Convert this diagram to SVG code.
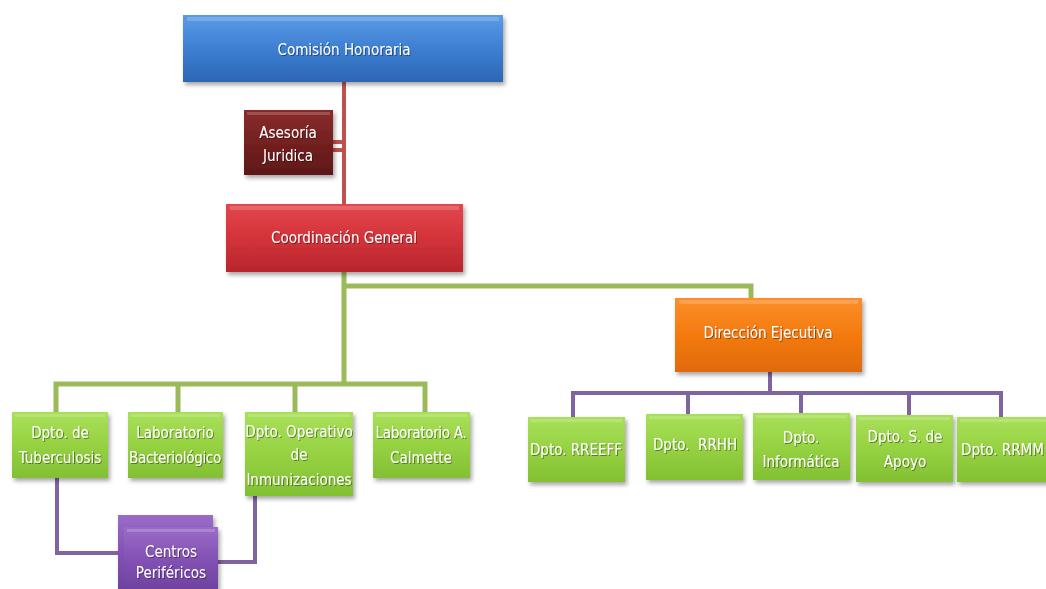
<svg xmlns="http://www.w3.org/2000/svg" width="1046" height="589" viewBox="0 0 1046 589">
<style>
text{font-family:"DejaVu Sans Condensed","DejaVu Sans","Liberation Sans",sans-serif;font-stretch:condensed;font-size:15px;fill:#ffffff;text-anchor:middle;filter:url(#ts)}
.tight{letter-spacing:-0.3px}
.red{stroke:#c0504d;stroke-width:4;fill:none}
.grn{stroke:#9bbb59;stroke-width:5;fill:none}
.pur{stroke:#8064a2;stroke-width:4;fill:none}
.blue{fill:url(#gBlue)}
.dred{fill:url(#gDred)}
.rd{fill:url(#gRed)}
.or{fill:url(#gOr)}
.gr{fill:url(#gGr)}
.pu{fill:url(#gPu)}
.hl{fill:#ffffff;opacity:0.18}
</style>
<defs>
<linearGradient id="gBlue" x1="0" y1="0" x2="0" y2="1"><stop offset="0" stop-color="#5b9be6"/><stop offset="0.5" stop-color="#3d7fd2"/><stop offset="1" stop-color="#2c66b4"/></linearGradient>
<linearGradient id="gDred" x1="0" y1="0" x2="0" y2="1"><stop offset="0" stop-color="#8a2c2c"/><stop offset="0.5" stop-color="#742020"/><stop offset="1" stop-color="#5e1818"/></linearGradient>
<linearGradient id="gRed" x1="0" y1="0" x2="0" y2="1"><stop offset="0" stop-color="#e4474d"/><stop offset="0.5" stop-color="#d3333a"/><stop offset="1" stop-color="#b8262c"/></linearGradient>
<linearGradient id="gOr" x1="0" y1="0" x2="0" y2="1"><stop offset="0" stop-color="#fb8f2a"/><stop offset="0.5" stop-color="#f47a10"/><stop offset="1" stop-color="#e06a08"/></linearGradient>
<linearGradient id="gGr" x1="0" y1="0" x2="0" y2="1"><stop offset="0" stop-color="#a9e05a"/><stop offset="0.5" stop-color="#96d242"/><stop offset="1" stop-color="#82c033"/></linearGradient>
<linearGradient id="gPu" x1="0" y1="0" x2="0" y2="1"><stop offset="0" stop-color="#9a6cc8"/><stop offset="0.5" stop-color="#8452b4"/><stop offset="1" stop-color="#6f42a0"/></linearGradient>
<filter id="ds" x="-10%" y="-10%" width="125%" height="135%"><feDropShadow dx="2" dy="3" stdDeviation="2" flood-color="#000" flood-opacity="0.35"/></filter>
<filter id="ts" x="-10%" y="-30%" width="120%" height="160%"><feDropShadow dx="1" dy="1" stdDeviation="0.6" flood-color="#000" flood-opacity="0.4"/></filter>
</defs>

<g id="connectors">
<path class="red" d="M344 82 V205"/>
<path class="red" d="M333 142 H344 M333 150 H344"/>
<path class="grn" d="M344 272 V386"/>
<path class="grn" d="M344 286 H751 V300"/>
<path class="grn" d="M56 412 V384 H425 V412"/>
<path class="grn" d="M178 384 V412 M295 384 V412"/>
<path class="pur" d="M770 372 V393"/>
<path class="pur" d="M573 417 V393 H1001 V417"/>
<path class="pur" d="M688 393 V414 M801 393 V413 M909 393 V415"/>
<path class="pur" d="M57 478 V553 H120"/>
<path class="pur" d="M255 496 V562 H218"/>
</g>

<g id="n-comision" filter="url(#ds)">
<rect class="blue" x="183" y="15" width="320" height="67"/>
<rect class="hl" x="187" y="17" width="312" height="4"/>
<text x="344" y="55">Comisión Honoraria</text>
</g>

<g id="n-asesoria" filter="url(#ds)">
<rect class="dred" x="244" y="110" width="89" height="65"/>
<rect class="hl" x="247" y="112" width="83" height="3"/>
<text x="288" y="138">Asesoría</text>
<text x="288" y="161">Juridica</text>
</g>

<g id="n-coordinacion" filter="url(#ds)">
<rect class="rd" x="226" y="204" width="237" height="68"/>
<rect class="hl" x="230" y="206" width="229" height="4"/>
<text x="344" y="243">Coordinación General</text>
</g>

<g id="n-direccion" filter="url(#ds)">
<rect class="or" x="675" y="298" width="187" height="74"/>
<rect class="hl" x="679" y="300" width="179" height="4"/>
<text x="768" y="338">Dirección Ejecutiva</text>
</g>

<g id="n-tuberculosis" filter="url(#ds)">
<rect class="gr" x="12" y="412" width="96" height="66"/>
<rect class="hl" x="15" y="414" width="90" height="3"/>
<text x="60" y="438">Dpto. de</text>
<text x="60" y="463">Tuberculosis</text>
</g>

<g id="n-bacteriologico" filter="url(#ds)">
<rect class="gr" x="128" y="412" width="95" height="66"/>
<rect class="hl" x="131" y="414" width="89" height="3"/>
<text x="175" y="438">Laboratorio</text>
<text class="tight" x="175" y="463">Bacteriológico</text>
</g>

<g id="n-inmunizaciones" filter="url(#ds)">
<rect class="gr" x="245" y="412" width="108" height="84"/>
<rect class="hl" x="248" y="414" width="102" height="3"/>
<text x="299" y="437">Dpto. Operativo</text>
<text x="299" y="460">de</text>
<text x="299" y="485">Inmunizaciones</text>
</g>

<g id="n-calmette" filter="url(#ds)">
<rect class="gr" x="373" y="412" width="97" height="66"/>
<rect class="hl" x="376" y="414" width="91" height="3"/>
<text class="tight" x="421" y="438">Laboratorio A.</text>
<text x="421" y="463">Calmette</text>
</g>

<g id="n-centros" filter="url(#ds)">
<rect class="pu" x="118" y="515" width="95" height="74"/>
<rect class="pu" x="124" y="527" width="94" height="62"/>
<rect class="hl" x="127" y="529" width="88" height="3"/>
<text x="171" y="557">Centros</text>
<text x="171" y="578">Periféricos</text>
</g>

<g id="n-rreeff" filter="url(#ds)">
<rect class="gr" x="528" y="417" width="97" height="65"/>
<rect class="hl" x="531" y="419" width="91" height="3"/>
<text x="576" y="455">Dpto. RREEFF</text>
</g>

<g id="n-rrhh" filter="url(#ds)">
<rect class="gr" x="646" y="414" width="97" height="66"/>
<rect class="hl" x="649" y="416" width="91" height="3"/>
<text x="695" y="450" xml:space="preserve">Dpto.  RRHH</text>
</g>

<g id="n-informatica" filter="url(#ds)">
<rect class="gr" x="753" y="413" width="97" height="67"/>
<rect class="hl" x="756" y="415" width="91" height="3"/>
<text x="801" y="443">Dpto.</text>
<text x="801" y="467">Informática</text>
</g>

<g id="n-apoyo" filter="url(#ds)">
<rect class="gr" x="856" y="415" width="97" height="67"/>
<rect class="hl" x="859" y="417" width="91" height="3"/>
<text x="905" y="442">Dpto. S. de</text>
<text x="905" y="467">Apoyo</text>
</g>

<g id="n-rrmm" filter="url(#ds)">
<rect class="gr" x="957" y="417" width="100" height="65"/>
<rect class="hl" x="960" y="419" width="94" height="3"/>
<text x="961" y="455" style="text-anchor:start">Dpto. RRMM</text>
</g>
</svg>
